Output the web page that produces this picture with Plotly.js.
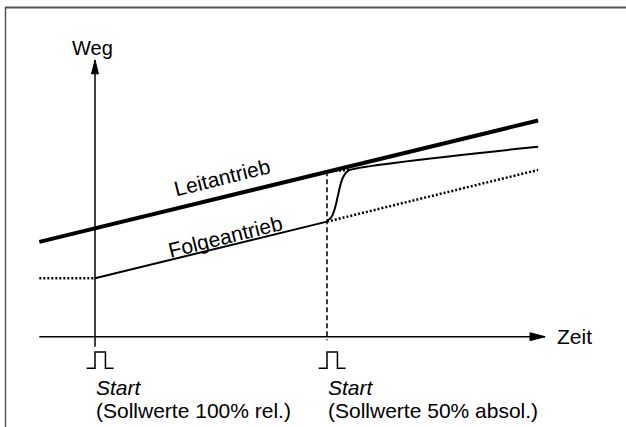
<!DOCTYPE html>
<html>
<head>
<meta charset="utf-8">
<script src="https://cdn.plot.ly/plotly-3.0.1.min.js"></script>
<style>html,body{margin:0;padding:0;background:#fff;}#chart{width:626px;height:427px;}</style>
</head>
<body>
<div id="chart"></div>
<script>
// Time axis (t) and path axis (w) in schematic units; Start 1 at t=0, Start 2 at t=10
const leitT = [-2.4, 19.1];
const leitW = [4.09, 9.32];

const folgeWaitT = [-2.4, 0];
const folgeWaitW = [2.52, 2.52];

const folgeT = [0, 10];
const folgeW = [2.52, 4.96];

const folgeOldT = [10, 19.1];
const folgeOldW = [4.96, 7.19];

const syncT = [10, 10.2, 10.34, 10.46, 10.56, 10.67, 10.82, 10.99, 19.1];
const syncW = [4.99, 5.17, 5.53, 6.03, 6.47, 6.83, 7.07, 7.19, 8.19];

const topLinkT = [10, 10.99];
const topLinkW = [7.13, 7.19];

const markT = [10, 10];
const markW = [7.13, -0.15];

const startTimes = [0, 10];
const pulseDT = [-0.36, 0, 0, 0.45, 0.45, 0.8];
const pulseW = [-1.36, -1.36, -0.66, -0.66, -1.36, -1.36];

const xAxisT = [-2.4, 19.4];
const yAxisW = [-0.43, 11.93];

const startLabels = ["Start", "Start"];
const setpointLabels = ["(Sollwerte 100% rel.)", "(Sollwerte 50% absol.)"];
const curveLabels = ["Leitantrieb", "Folgeantrieb"];
const curveLabelT = [5.46, 5.62];
const curveLabelW = [6.87, 4.31];

const FONT = "Liberation Sans, Arial, Helvetica, sans-serif";
const FS = 21;

const line = (x, y, w, dash) => ({
  type: "scatter", mode: "lines", x: x, y: y, hoverinfo: "skip", showlegend: false,
  line: {color: "#000", width: w, dash: dash || "solid"}
});

const traces = [];
// axes
traces.push(line(xAxisT, [0, 0], 1.5));
traces.push(line([0, 0], yAxisW, 1.5));
// arrow heads, derived from axis ends
const hx = 0.65, hy = 0.17;
traces.push({type: "scatter", mode: "lines", fill: "toself", fillcolor: "#000", hoverinfo: "skip", showlegend: false,
  x: [xAxisT[1], xAxisT[1] - hx, xAxisT[1] - hx, xAxisT[1]], y: [0, hy, -hy, 0], line: {color: "#000", width: 1}});
traces.push({type: "scatter", mode: "lines", fill: "toself", fillcolor: "#000", hoverinfo: "skip", showlegend: false,
  x: [0, 0.15, -0.15, 0], y: [yAxisW[1], yAxisW[1] - 0.6, yAxisW[1] - 0.6, yAxisW[1]], line: {color: "#000", width: 1}});

traces.push(line(leitT, leitW, 4));
traces.push(line(folgeWaitT, folgeWaitW, 2.5, "2px,2px"));
traces.push(line(folgeT, folgeW, 2));
traces.push(line(folgeOldT, folgeOldW, 2.5, "2px,2px"));
traces.push(line(topLinkT, topLinkW, 2.5, "2px,2px"));
traces.push(line(markT, markW, 1.5, "5px,3px"));
const s = line(syncT, syncW, 2);
s.line.shape = "spline"; s.line.smoothing = 0.8;
traces.push(s);
startTimes.forEach(t0 => {
  traces.push(line(pulseDT.map(d => t0 + d), pulseW, 1.5));
});

const ann = [];
const txt = (x, y, text, extra) => Object.assign({
  x: x, y: y, xref: "x", yref: "y", text: text, showarrow: false,
  xanchor: "left", yanchor: "middle", font: {family: FONT, size: FS, color: "#000"}
}, extra || {});
ann.push(txt(-0.09, 12.44, "Weg", {xanchor: "center", font: {family: FONT, size: 20, color: "#000"}}));
ann.push(txt(19.81, 0.0, "Zeit"));
startTimes.forEach((t0, i) => {
  ann.push(txt(t0 - 0.05, -2.2, "<i>" + startLabels[i] + "</i>"));
  ann.push(txt(t0 - 0.05, -3.2, setpointLabels[i]));
});
curveLabels.forEach((c, i) => {
  ann.push(txt(curveLabelT[i], curveLabelW[i], c, {xanchor: "center", textangle: -14}));
});

const layout = {
  width: 626, height: 427,
  margin: {l: 0, r: 0, t: 0, b: 0, pad: 0},
  paper_bgcolor: "#fff", plot_bgcolor: "#fff",
  xaxis: {range: [-4.0948, 22.888], visible: false, fixedrange: true},
  yaxis: {range: [-3.892, 14.513], visible: false, fixedrange: true},
  showlegend: false,
  annotations: ann,
  shapes: [
    {type: "line", xref: "paper", yref: "paper", x0: 5 / 626, x1: 1, y0: 1 - 7.5 / 427, y1: 1 - 7.5 / 427, line: {color: "#555", width: 2}},
    {type: "line", xref: "paper", yref: "paper", x0: 5.5 / 626, x1: 5.5 / 626, y0: 0, y1: 1 - 7 / 427, line: {color: "#555", width: 1.5}}
  ]
};

Plotly.newPlot("chart", traces, layout, {displayModeBar: false, staticPlot: true});
</script>
</body>
</html>
